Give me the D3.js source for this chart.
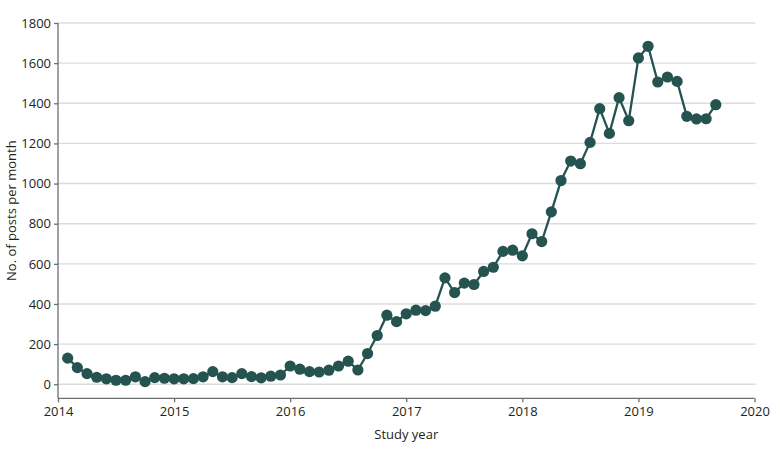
<!DOCTYPE html>
<html>
<head>
<meta charset="utf-8">
<script src="https://cdn.jsdelivr.net/npm/d3@7"></script>
<style>
  body { margin: 0; background: #fff; }
  text { font-family: "Open Sans", "Noto Sans", sans-serif; fill: #231f20; }
</style>
</head>
<body>
<script>
// monthly post counts, Jan 2014 .. Aug 2019
var startYear = 2014;
var posts = [
  130, 83, 53, 35, 27, 20, 20, 37, 13, 33, 30, 27,
  27, 28, 37, 63, 37, 33, 53, 38, 32, 40, 46, 91,
  75, 63, 61, 70, 91, 115, 71, 153, 243, 344, 312, 351,
  369, 367, 389, 530, 457, 504, 497, 562, 583, 662, 668, 640,
  750, 711, 859, 1015, 1112, 1099, 1205, 1373, 1250, 1428, 1313, 1626,
  1684, 1506, 1531, 1509, 1335, 1322, 1323, 1393
];
var xTicks = [2014, 2015, 2016, 2017, 2018, 2019, 2020];
var yTicks = [0, 200, 400, 600, 800, 1000, 1200, 1400, 1600, 1800];

var w = 780, h = 456;
var pLeft = 58, pRight = 754.5, pTop = 23, pBottom = 398.3;
var color = '#255450';

var svg = d3.select('body').append('svg').attr('width', w).attr('height', h);

// each point sits at the end of its month
var data = posts.map(function(v, i) {
  return { t: startYear + (i + 1) / 12, v: v };
});

var x = d3.scaleLinear().domain([2014, 2020]).range([pLeft, pRight]);
var y = d3.scaleLinear().domain([-70, 1800]).range([pBottom, pTop]);

// gridlines
svg.append('g')
  .selectAll('line')
  .data(yTicks)
  .enter().append('line')
    .attr('x1', pLeft)
    .attr('x2', pRight + 1)
    .attr('y1', function(d) { return y(d); })
    .attr('y2', function(d) { return y(d); })
    .attr('stroke', '#dcdcdc')
    .attr('stroke-width', 1.4);

var yAxis = svg.append('g')
  .attr('transform', 'translate(' + pLeft + ',0)')
  .call(d3.axisLeft(y).tickValues(yTicks).tickSize(4).tickPadding(3).tickFormat(d3.format('d')));

var xAxis = svg.append('g')
  .attr('transform', 'translate(0,' + pBottom + ')')
  .call(d3.axisBottom(x).tickValues(xTicks).tickSize(4).tickPadding(4).tickFormat(d3.format('d')));

[yAxis, xAxis].forEach(function(a) {
  a.select('.domain').attr('stroke', '#6d6e70').attr('stroke-width', 1.3);
  a.selectAll('.tick line').attr('stroke', '#6d6e70').attr('stroke-width', 1.3);
  a.selectAll('.tick text').style('font-size', '13px').attr('fill', '#231f20')
    .style('font-family', '"Open Sans", "Noto Sans", sans-serif');
});
yAxis.select('.domain').attr('d', 'M0,' + pTop + 'V' + pBottom);
xAxis.select('.domain').attr('d', 'M' + pLeft + ',0H' + pRight);

svg.append('text')
  .attr('x', (pLeft + pRight) / 2)
  .attr('y', 439)
  .attr('text-anchor', 'middle')
  .style('font-size', '13px')
  .text('Study year');

svg.append('text')
  .attr('transform', 'translate(16,' + (pTop + pBottom) / 2 + ') rotate(-90)')
  .attr('text-anchor', 'middle')
  .style('font-size', '13px')
  .text('No. of posts per month');

var line = d3.line()
  .x(function(d) { return x(d.t); })
  .y(function(d) { return y(d.v); });

svg.append('path')
  .datum(data)
  .attr('fill', 'none')
  .attr('stroke', color)
  .attr('stroke-width', 2.3)
  .attr('d', line);

svg.append('g')
  .selectAll('circle')
  .data(data)
  .enter().append('circle')
    .attr('cx', function(d) { return x(d.t); })
    .attr('cy', function(d) { return y(d.v); })
    .attr('r', 5.6)
    .attr('fill', color);
</script>
</body>
</html>
